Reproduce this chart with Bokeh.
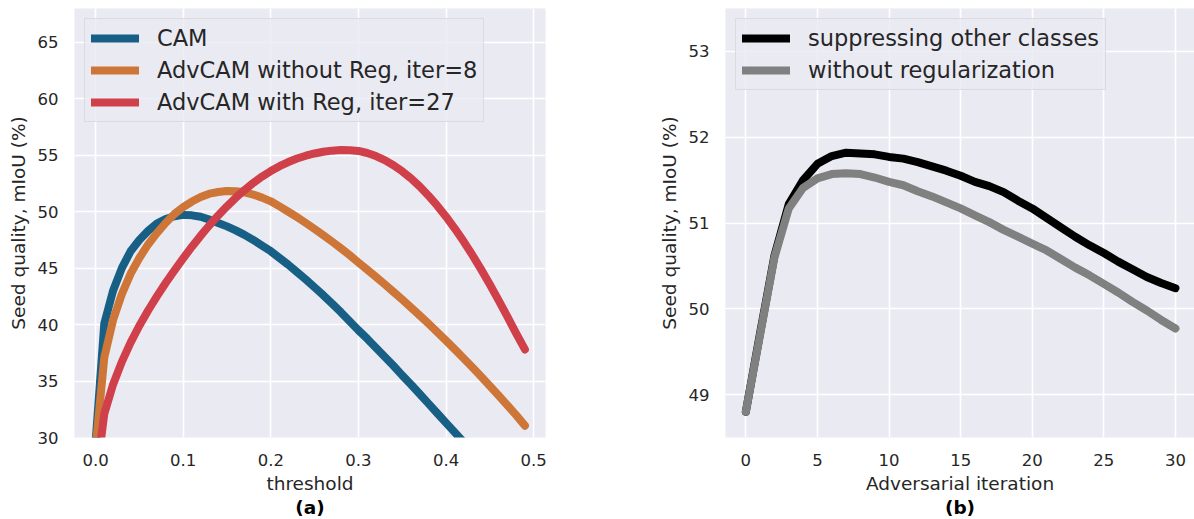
from bokeh.plotting import figure
from bokeh.layouts import row
from bokeh.models import Legend, LegendItem, Title, Range1d, FixedTicker, NumeralTickFormatter
from bokeh.embed import file_html
from bokeh.resources import INLINE

# ---------------- data: panel (a) ----------------
threshold = [0.00, 0.01, 0.02, 0.03, 0.04, 0.05, 0.06, 0.07, 0.08, 0.09,
             0.10, 0.11, 0.12, 0.13, 0.14, 0.15, 0.16, 0.17, 0.18, 0.19,
             0.20, 0.21, 0.22, 0.23, 0.24, 0.25, 0.26, 0.27, 0.28, 0.29,
             0.30, 0.31, 0.32, 0.33, 0.34, 0.35, 0.36, 0.37, 0.38, 0.39,
             0.40, 0.41, 0.42, 0.43, 0.44, 0.45, 0.46, 0.47, 0.48, 0.49]

cam = [29.5, 40.1, 43.0, 45.0, 46.5, 47.5, 48.3, 48.95, 49.35, 49.6,
       49.72, 49.68, 49.55, 49.3, 49.0, 48.7, 48.35, 47.95, 47.5, 47.0,
       46.5, 45.9, 45.3, 44.65, 44.0, 43.3, 42.6, 41.85, 41.1, 40.3,
       39.5, 38.75, 37.95, 37.15, 36.35, 35.5, 34.7, 33.85, 33.0, 32.15,
       31.3, 30.45, 29.6, 28.75, 27.9, 27.05, 26.2, 25.35, 24.5, 23.65]

adv_noreg = [29.0, 37.1, 40.4, 42.7, 44.5, 45.9, 47.1, 48.1, 49.0, 49.8,
             50.4, 50.9, 51.3, 51.6, 51.75, 51.83, 51.82, 51.72, 51.52, 51.25,
             50.92, 50.47, 50.0, 49.51, 49.0, 48.47, 47.92, 47.35, 46.76, 46.15,
             45.5, 44.87, 44.23, 43.57, 42.9, 42.22, 41.52, 40.81, 40.08, 39.34,
             38.58, 37.81, 37.02, 36.22, 35.4, 34.57, 33.72, 32.86, 31.98, 31.05]

adv_reg = [26.0, 32.1, 34.7, 36.7, 38.4, 39.9, 41.25, 42.5, 43.68, 44.8,
           45.87, 46.9, 47.88, 48.8, 49.67, 50.48, 51.23, 51.92, 52.55, 53.11,
           53.6, 54.03, 54.4, 54.71, 54.96, 55.16, 55.31, 55.41, 55.46, 55.45,
           55.38, 55.2, 54.93, 54.57, 54.12, 53.58, 52.95, 52.23, 51.42, 50.53,
           49.56, 48.51, 47.38, 46.17, 44.89, 43.55, 42.15, 40.7, 39.22, 37.8]

a_xticks = [0.0, 0.1, 0.2, 0.3, 0.4, 0.5]
a_yticks = [30, 35, 40, 45, 50, 55, 60, 65]

# ---------------- data: panel (b) ----------------
iteration = [0, 1, 2, 3, 4, 5, 6, 7, 8, 9, 10, 11, 12, 13, 14, 15,
             16, 17, 18, 19, 20, 21, 22, 23, 24, 25, 26, 27, 28, 29, 30]

suppress = [48.8, 49.72, 50.62, 51.22, 51.5, 51.69, 51.78, 51.82, 51.81, 51.8,
            51.77, 51.75, 51.71, 51.66, 51.61, 51.55, 51.48, 51.43, 51.36, 51.26,
            51.17, 51.06, 50.95, 50.84, 50.74, 50.65, 50.55, 50.46, 50.37, 50.3, 50.24]

noreg = [48.8, 49.7, 50.6, 51.17, 51.41, 51.52, 51.57, 51.58, 51.57, 51.53,
         51.48, 51.44, 51.37, 51.31, 51.24, 51.17, 51.09, 51.01, 50.92, 50.84,
         50.76, 50.68, 50.58, 50.48, 50.39, 50.29, 50.19, 50.08, 49.98, 49.87, 49.77]

b_xticks = [0, 5, 10, 15, 20, 25, 30]
b_yticks = [49, 50, 51, 52, 53]

FONT = "DejaVu Sans"
TXT = "#262626"
BG = "#EAEAF2"
LW = 8


def style(p, xticks, yticks):
    p.background_fill_color = BG
    p.border_fill_color = "white"
    p.outline_line_color = None
    for g in (p.xgrid, p.ygrid):
        g.grid_line_color = "white"
        g.grid_line_width = 1.6
    p.xaxis.ticker = FixedTicker(ticks=xticks)
    p.yaxis.ticker = FixedTicker(ticks=yticks)
    for ax in (p.xaxis, p.yaxis):
        ax.axis_line_color = None
        ax.major_tick_line_color = None
        ax.minor_tick_line_color = None
        ax.major_tick_out = 0
        ax.major_tick_in = 0
        ax.major_label_text_font = FONT
        ax.major_label_text_font_size = "16.5px"
        ax.major_label_text_color = TXT
        ax.axis_label_text_font = FONT
        ax.axis_label_text_font_size = "18.5px"
        ax.axis_label_text_font_style = "normal"
        ax.axis_label_text_color = TXT
    p.xaxis.major_label_standoff = 16
    p.yaxis.major_label_standoff = 16
    p.xaxis.axis_label_standoff = 4
    p.yaxis.axis_label_standoff = 6


def make_legend(items):
    lg = Legend(items=items, location="top_left", margin=10, padding=6,
                spacing=6, glyph_width=48, glyph_height=24, label_height=24,
                label_standoff=18, label_text_font=FONT,
                label_text_font_size="22.5px", label_text_color=TXT,
                background_fill_color=BG, background_fill_alpha=0.8,
                border_line_color="#cccccc", border_line_width=1)
    return lg


# ---------------- panel (a) ----------------
p1 = figure(width=600, height=518, output_backend="svg", toolbar_location=None,
            x_range=Range1d(-0.024, 0.5135), y_range=Range1d(30, 68),
            min_border_left=74, min_border_right=55, min_border_top=8,
            min_border_bottom=81, x_axis_label="threshold",
            y_axis_label="Seed quality, mIoU (%)")
style(p1, a_xticks, a_yticks)
p1.xaxis.formatter = NumeralTickFormatter(format="0.0")

r_cam = p1.line(threshold, cam, line_color="#185f86", line_width=LW,
                line_cap="round", line_join="round")
r_nr = p1.line(threshold, adv_noreg, line_color="#cd7638", line_width=LW,
               line_cap="round", line_join="round")
r_r = p1.line(threshold, adv_reg, line_color="#d0404a", line_width=LW,
              line_cap="round", line_join="round")
p1.add_layout(make_legend([
    LegendItem(label="CAM", renderers=[r_cam]),
    LegendItem(label="AdvCAM without Reg, iter=8", renderers=[r_nr]),
    LegendItem(label="AdvCAM with Reg, iter=27", renderers=[r_r]),
]))
p1.add_layout(Title(text="(a)", align="center", text_font=FONT,
                    text_font_size="18.5px", text_font_style="bold",
                    text_color="black", standoff=-3, offset=0), "below")

# ---------------- panel (b) ----------------
p2 = figure(width=594, height=518, output_backend="svg", toolbar_location=None,
            x_range=Range1d(-1.42, 31.33), y_range=Range1d(48.5, 53.5),
            min_border_left=125, min_border_right=0, min_border_top=8,
            min_border_bottom=81, x_axis_label="Adversarial iteration",
            y_axis_label="Seed quality, mIoU (%)")
style(p2, b_xticks, b_yticks)

r_s = p2.line(iteration, suppress, line_color="black", line_width=LW,
              line_cap="round", line_join="round")
r_n = p2.line(iteration, noreg, line_color="#808080", line_width=LW,
              line_cap="round", line_join="round")
p2.add_layout(make_legend([
    LegendItem(label="suppressing other classes", renderers=[r_s]),
    LegendItem(label="without regularization", renderers=[r_n]),
]))
p2.add_layout(Title(text="(b)", align="center", text_font=FONT,
                    text_font_size="18.5px", text_font_style="bold",
                    text_color="black", standoff=-3, offset=0), "below")

layout = row(p1, p2)
open("out.html", "w").write(file_html(layout, INLINE))
